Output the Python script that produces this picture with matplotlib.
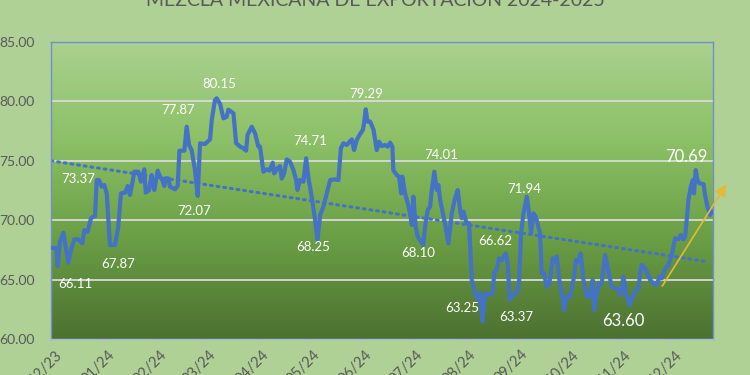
#!/usr/bin/env python3

import numpy as np
import pandas as pd
import matplotlib
matplotlib.use('Agg')
import matplotlib.pyplot as plt
import matplotlib.dates as mdates
import matplotlib.transforms as mtransforms
from matplotlib.colors import LinearSegmentedColormap

plt.rcParams['font.family'] = ['Lato', 'DejaVu Sans']

start = pd.Timestamp('2023-12-01')

# days since 2023-12-01
days = [0, 3.3, 3.9, 5.3, 7.3, 8.7, 10.2, 11.8, 13.8, 16.1, 18.5, 19.7, 21.6, 23.6, 25.0, 26.0,
        27.0, 28.3, 29.9, 31.5, 32.9, 34.8, 37.8, 39.7, 41.3, 43.7, 45.3, 46.6, 48.0, 49.2, 51.6,
        53.1, 55.1, 55.9, 57.9, 59.4, 61.0, 63.0, 64.4, 65.7, 66.9, 67.7, 69.3, 70.2, 73.2, 74.8,
        75.8, 78.7, 80.1, 81.5, 83.0, 85.0, 86.6, 88.0, 90.9, 93.9, 94.9, 96.8,
        97.8, 99.8, 101.8, 103.7, 104.7, 107.7, 109.3, 111.6, 113.6, 115.2, 116.0, 118.5, 120.5,
        122.4, 123.4, 125.4, 127.4, 129.0, 130.9, 131.7, 133.7, 135.2, 136.2, 137.6, 139.2, 141.1,
        143.1, 144.7, 145.5, 147.0, 149.0, 150.6, 152.0, 153.9, 155.9, 157.3, 158.9, 160.8, 162.8,
        164.8, 167.7, 169.7, 171.1, 172.6, 174.6, 176.2, 177.6, 178.9, 180.5, 182.1, 184.1, 184.8,
        185.8, 186.8, 188.4, 190.4, 192.3, 193.7, 195.2, 197.2, 198.8, 200.2, 201.5, 202.1, 204.1,
        205.5, 206.7, 207.4, 209.0, 210.6, 212.0, 213.0, 213.9, 215.3, 216.5, 218.5, 219.8, 220.8,
        222.4, 223.8, 224.8, 226.3, 227.7, 228.7, 229.7, 232.6, 234.6, 236.6, 238.5, 240.1, 241.5,
        242.5, 243.5, 245.4, 246.8, 248.4, 250.4, 252.0, 253.3, 254.7, 256.3, 258.2, 260.6, 261.8,
        263.1, 264.5, 266.1, 268.5, 269.6, 270.8, 272.4, 274.9, 276.3, 277.5, 278.9, 280.9, 282.2,
        283.4, 284.8, 286.2, 287.7, 288.7, 289.7, 291.1, 292.6, 294.2, 296.2, 297.6, 298.5, 300.1,
        301.5, 302.9, 304.4, 306.4, 308.4, 310.0, 311.3, 312.7, 314.3, 316.3, 318.2, 319.8, 320.6,
        322.2, 323.7, 325.1, 327.1, 329.1, 331.0, 333.0, 335.0, 336.3, 337.9, 339.5, 341.5, 343.4,
        345.4, 346.8, 347.8, 348.7, 350.7, 352.1, 353.7, 355.6, 357.6, 359.2, 360.6, 362.0, 364.5,
        366.5, 368.4, 370.4, 371.8, 373.3, 374.3, 375.3, 376.3, 377.7, 378.9, 379.6, 380.6, 381.6,
        382.8, 385.2, 386.1, 387.5, 389.1, 390.1]

prices = [67.69, 67.63, 66.14, 68.19, 68.95, 67.77, 66.42, 67.49, 68.39, 68.39, 68.05, 69.17, 69.03,
          70.16, 70.30, 70.35, 73.38, 73.38, 72.82, 72.96, 72.26, 67.91, 67.91, 69.45, 72.26, 72.32,
          72.88, 72.12, 73.10, 74.08, 74.08, 73.24, 74.28, 72.32, 72.54, 73.80, 72.54, 74.17, 73.66,
          73.38, 72.88, 73.52, 73.52, 72.82, 72.60, 72.88, 75.85, 75.85, 77.87, 76.33, 75.91, 74.22,
          72.04, 76.47, 76.41, 76.81, 78.43, 80.12,
          80.26, 79.80, 78.57, 78.70, 79.30, 79.00, 76.47, 76.20, 76.05, 75.85, 77.17, 77.87, 77.30,
          76.20, 76.20, 74.08, 74.28, 74.17, 74.84, 73.94, 74.36, 74.55, 73.50, 73.94, 75.12, 74.93,
          74.22, 73.38, 72.54, 73.38, 73.24, 75.21, 73.52, 71.98, 70.02, 68.33, 70.44, 71.14, 72.26,
          73.38, 73.44, 73.38, 76.05, 76.47, 76.33, 76.60, 76.80, 75.90, 76.75, 77.17, 77.60, 78.15,
          79.33, 78.30, 78.30, 77.60, 75.90, 76.60, 76.24, 76.33, 76.19, 76.53, 76.19, 74.22, 73.80,
          73.66, 72.26, 73.66, 72.26, 71.42, 70.58, 69.60, 71.98, 69.45, 68.61, 68.19, 67.91, 69.45,
          70.86, 71.14, 72.54, 74.08, 72.54, 72.96, 71.70, 69.73, 68.05, 70.58, 71.84, 72.54, 70.86,
          70.16, 70.72, 69.73, 69.73, 64.97, 63.84, 63.28, 63.84, 61.46, 63.84, 63.70, 63.84, 65.67,
          65.81, 66.79, 66.65, 67.21, 66.37, 63.28, 63.70, 63.84, 64.68, 68.89, 70.58, 71.98, 70.58,
          68.89, 70.58, 70.30, 69.45, 68.89, 65.53, 65.53, 64.40, 64.68, 66.79, 66.51, 66.93, 64.97,
          63.84, 62.44, 63.56, 63.56, 64.97, 66.65, 66.51, 67.21, 64.97, 63.56, 63.56, 64.97, 62.44,
          63.84, 64.68, 64.68, 67.07, 65.67, 64.40, 64.26, 64.12, 63.70, 65.25, 63.84, 62.86, 63.56,
          64.12, 64.26, 65.53, 66.23, 65.95, 65.53, 64.97, 64.68, 64.54, 65.25, 65.11, 65.81, 66.23,
          67.07, 68.47, 68.39, 68.75, 68.39, 68.61, 70.02, 71.70, 72.82, 73.38, 72.26, 74.22, 73.38,
          73.10, 73.04, 72.12, 71.14, 70.44, 70.72]

# linear trend, as drawn in the original
trend_days = [0, 388]
trend_vals = [75.0, 66.5]

# yellow arrow (start, end)
arrow_days = [360, 399.6]
arrow_vals = [64.26, 73.24]

label_texts = ['66.11', '73.37', '67.87', '77.87', '80.15', '72.07', '74.71', '79.29', '68.25',
               '74.01', '68.10', '63.25', '66.62', '63.37', '71.94', '63.60', '70.69']
label_days = [14.2, 15.8, 39.7, 74.8, 99.2, 84.4, 152.9, 185.8, 154.8,
              230.6, 216.8, 242.8, 262.1, 274.9, 279.2, 337.8, 375.3]
label_vals = [64.63, 73.47, 66.31, 79.28, 81.46, 70.77, 76.67, 80.62, 67.77,
              75.49, 67.26, 62.63, 68.25, 61.88, 72.63, 61.54, 75.30]
big_labels = ['63.60', '70.69']

def to_dates(d):
    return start + pd.to_timedelta(np.array(d, dtype=float), unit='D')

bg = '#AFD195'
blue = '#4472C4'
grey_txt = '#595959'

fig = plt.figure(figsize=(7.5, 3.75), dpi=100, facecolor=bg)
ax = fig.add_axes([51/750, 36/375, 662/750, 297/375])
ax.set_facecolor(bg)

# gradient fill of plot area
cmap = LinearSegmentedColormap.from_list('g', ['#4C7131', '#6A9E45', '#8CC066', '#AAD18F'])
grad = np.linspace(0, 1, 256).reshape(-1, 1)
ax.imshow(grad, cmap=cmap, aspect='auto', extent=[0, 1, 0, 1], transform=ax.transAxes,
          origin='lower', zorder=0)

for v in [65, 70, 75, 80]:
    ax.axhline(v, color='#D9D9D9', lw=1.3, zorder=1)

ax.plot(to_dates(days), prices, color=blue, lw=3.0, zorder=3, solid_joinstyle='round')
ax.plot(to_dates(trend_days), trend_vals, color=blue, lw=2.2, ls=(0, (0.6, 1.6)),
        dash_capstyle='round', zorder=2)

ax.annotate('', xy=(to_dates([arrow_days[1]])[0], arrow_vals[1]),
            xytext=(to_dates([arrow_days[0]])[0], arrow_vals[0]),
            arrowprops=dict(arrowstyle='-|>', color='#E3B93A', lw=1.2, mutation_scale=18),
            annotation_clip=False, zorder=4)

for t, d, v in zip(label_texts, label_days, label_vals):
    fs = 12 if t in big_labels else 9.5
    ax.text(to_dates([d])[0], v, t, color='white', fontsize=fs, ha='center', va='center', zorder=5)

ax.set_ylim(60, 85)
ax.set_yticks([60, 65, 70, 75, 80, 85])
ax.yaxis.set_major_formatter(matplotlib.ticker.FormatStrFormatter('%.2f'))
ax.set_xlim(to_dates([0])[0], to_dates([390.8])[0])
ax.xaxis.set_major_locator(mdates.MonthLocator())
ax.xaxis.set_major_formatter(mdates.DateFormatter('%m/%y'))

ax.tick_params(axis='y', length=0, pad=12, labelsize=10, labelcolor=grey_txt)
ax.tick_params(axis='x', length=5, color='#BFBFBF', labelsize=10.5, labelcolor=grey_txt, pad=1)
shift = mtransforms.ScaledTranslation(4/100, 0, fig.dpi_scale_trans)
for lbl in ax.get_xticklabels():
    lbl.set_rotation(45)
    lbl.set_ha('right')
    lbl.set_rotation_mode('anchor')
    lbl.set_transform(lbl.get_transform() + shift)

for s in ax.spines.values():
    s.set_color('#6F8FCF')
    s.set_linewidth(1)
ax.spines['bottom'].set_color('#A5B8D8')

fig.text(0.5, (375 - 6.5)/375, 'MEZCLA MEXICANA DE EXPORTACIÓN 2024-2025', ha='center',
         va='baseline', fontsize=14, color=grey_txt)

fig.savefig('out.png', dpi=100, facecolor=bg)
